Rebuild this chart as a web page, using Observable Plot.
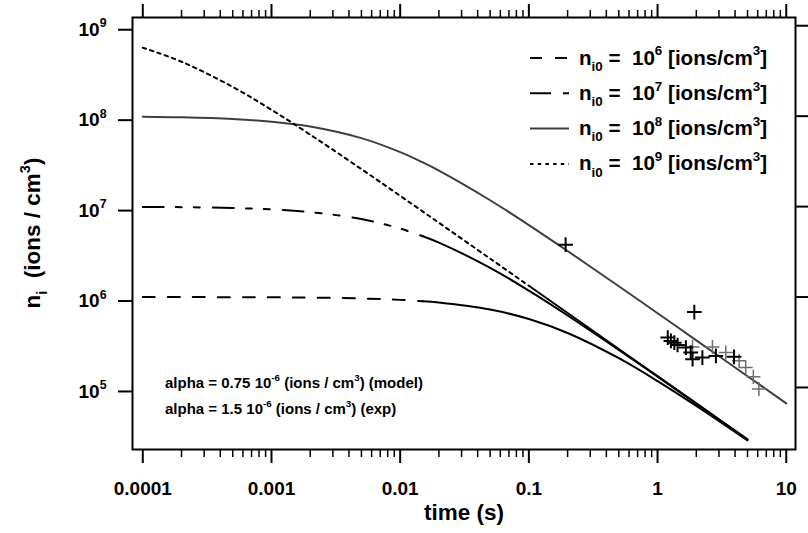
<!DOCTYPE html>
<html><head><meta charset="utf-8">
<script src="https://cdn.jsdelivr.net/npm/d3@7"></script>
<script src="https://cdn.jsdelivr.net/npm/@observablehq/plot@0.6"></script>
<style>body{margin:0;background:#fff;} #chart svg{display:block;background:#fff;} text{white-space:pre;}</style>
</head><body><div id="chart"></div>
<script>
// ---- data ----
const xTicks = [0.0001, 0.001, 0.01, 0.1, 1, 10];
const xTickLabels = ["0.0001", "0.001", "0.01", "0.1", "1", "10"];
const yTicks = [1e5, 1e6, 1e7, 1e8, 1e9];
const yTickLabels = ["10^5", "10^6", "10^7", "10^8", "10^9"];

const tModel = [1e-4, 2e-4, 5e-4, 1e-3, 2e-3, 5e-3, 0.01, 0.015, 0.02, 0.05, 0.1, 0.2, 0.5, 1, 2, 5];
const tModel8 = [1e-4, 2e-4, 5e-4, 1e-3, 2e-3, 5e-3, 0.01, 0.015, 0.02, 0.05, 0.1, 0.2, 0.5, 1, 2, 5, 10];
const n06 = [9.99e5, 9.985e5, 9.963e5, 9.926e5, 9.852e5, 9.639e5, 9.302e5, 8.989e5, 8.696e5, 7.273e5, 5.714e5, 4.0e5, 2.105e5, 1.176e5, 6.25e4, 2.597e4];
const n07 = [9.926e6, 9.852e6, 9.639e6, 9.302e6, 8.696e6, 7.273e6, 5.714e6, 4.706e6, 4.0e6, 2.105e6, 1.176e6, 6.25e5, 2.597e5, 1.316e5, 6.623e4, 2.658e4];
const n08 = [9.852e7, 9.709e7, 9.302e7, 8.696e7, 7.692e7, 5.714e7, 4.0e7, 3.077e7, 2.5e7, 1.176e7, 6.25e6, 3.226e6, 1.316e6, 6.623e5, 3.322e5, 1.332e5, 6.662e4];
const n09 = [5.714e8, 4.0e8, 2.105e8, 1.176e8, 6.25e7, 2.597e7, 1.316e7, 8.811e6, 6.623e6, 2.66e6, 1.331e6, 6.664e5, 2.666e5, 1.333e5, 6.666e4, 2.667e4];
const seriesNames = ["1e6", "1e7", "1e8", "1e9"];
const seriesExp = ["6", "7", "8", "9"];
const dashCut = [0.015, 0.015, 0, 0.1];

const expBlackT = [0.193, 1.93, 1.2, 1.27, 1.35, 1.43, 1.66, 1.81, 1.87, 2.23, 2.84, 3.93];
const expBlackN = [3.79e6, 6.82e5, 3.56e5, 3.27e5, 3.13e5, 2.95e5, 2.76e5, 2.43e5, 2.05e5, 2.14e5, 2.23e5, 2.18e5];
const expGrayT = [1.87, 2.67, 3.39, 4.3, 4.84, 5.55, 6.13];
const expGrayN = [2.8e5, 2.8e5, 2.43e5, 1.97e5, 1.66e5, 1.31e5, 9.6e4];

// ---- styling ----
const FONT = "'Liberation Sans', Arial, Helvetica, sans-serif";
const TICK = 19, TITLE = 22.5, YTITLE = 22.5, LEG = 20.6, ANN = 15;
const dashes = ["12,13", "21,12,6,12,6,13", null, "3.5,4.2"];
const colors = ["#000", "#000", "#3f3f3f", "#000"];

const modelT = [tModel, tModel, tModel8, tModel];
const modelN = [n06, n07, n08, n09];
const rows = seriesNames.flatMap((s, k) => modelT[k].map((t, i) => ({s, k, t, n: modelN[k][i]})));
const black = expBlackT.map((t, i) => ({t, n: expBlackN[i]}));
const gray = expGrayT.map((t, i) => ({t, n: expGrayN[i]}));

const minorX = [];
for (let e = -4; e < 1; e++) for (let m = 2; m <= 9; m++) minorX.push(m * 10 ** e);

const lineMarks = [];
seriesNames.forEach((s, k) => {
  const cut = dashCut[k];
  if (cut > 0) {
    lineMarks.push(Plot.line(rows.filter(r => r.k === k && r.t <= cut), {x: "t", y: "n", stroke: colors[k], strokeWidth: 2, strokeDasharray: dashes[k], curve: "catmull-rom"}));
  }
  lineMarks.push(Plot.line(rows.filter(r => r.k === k && r.t >= cut), {x: "t", y: "n", stroke: colors[k], strokeWidth: 2, curve: "catmull-rom"}));
});

const svg = Plot.plot({
  width: 808, height: 533,
  marginLeft: 132, marginRight: 13, marginTop: 17, marginBottom: 84,
  x: {type: "log", domain: [8.318e-5, 11.80]},
  y: {type: "log", domain: [2.061e4, 1.233e9]},
  style: {fontFamily: FONT, fontSize: TICK + "px", fontWeight: "bold", color: "#000", background: "#fff"},
  marks: [
    ...lineMarks,
    Plot.dot(gray, {x: "t", y: "n", symbol: "plus", r: 4.6, stroke: "#6e6e6e", strokeWidth: 1.5}),
    Plot.dot(black, {x: "t", y: "n", symbol: "plus", r: 4.8, stroke: "#000", strokeWidth: 2}),
    Plot.frame({stroke: "#000", strokeWidth: 2}),
    Plot.axisX({anchor: "bottom", ticks: xTicks, tickSize: 14, tickPadding: 18, strokeWidth: 2, label: null,
      tickFormat: d => xTickLabels[xTicks.indexOf(d)]}),
    Plot.axisX({anchor: "bottom", ticks: minorX, tickSize: 8, strokeWidth: 1.5, label: null, tickFormat: () => ""}),
    Plot.axisX({anchor: "top", ticks: xTicks, tickSize: 14, strokeWidth: 2, label: null, tickFormat: () => ""}),
    Plot.axisX({anchor: "top", ticks: minorX, tickSize: 8, strokeWidth: 1.5, label: null, tickFormat: () => ""}),
    Plot.axisY({anchor: "left", ticks: yTicks, tickSize: 14, tickPadding: 12, strokeWidth: 2, label: null, dy: 4,
      tickFormat: d => yTickLabels[yTicks.indexOf(d)]}),
    Plot.axisY({anchor: "right", ticks: yTicks, tickSize: 13, strokeWidth: 2, label: null, tickFormat: () => ""}),
    Plot.text(["time (s)"], {frameAnchor: "bottom", lineAnchor: "middle", dy: 63, fontSize: TITLE, fontWeight: "bold"})
  ]
});
document.getElementById("chart").append(svg);

// ---- rich text helper (sub/superscripts) ----
function rich(sel, parts, size) {
  let cur = 0;
  for (const p of parts) {
    const target = p.sup ? -0.45 * size : p.sub ? 0.3 * size : 0;
    const ts = sel.append("tspan").text(p.t);
    if (target !== cur) ts.attr("dy", target - cur);
    if (p.sup || p.sub) ts.attr("font-size", 0.65 * size);
    cur = target;
  }
}

const root = d3.select(svg);
root.selectAll('g[aria-label="y-axis tick label"] text').each(function () {
  const s = d3.select(this);
  const txt = s.text();
  if (!txt.includes("^")) return;
  const [b, e] = txt.split("^");
  s.text("");
  rich(s, [{t: b}, {t: e, sup: true}], TICK);
});

// y-axis title
const yt = root.append("text")
  .attr("transform", "translate(32,233) rotate(-90)")
  .attr("text-anchor", "middle").attr("dy", "0.35em")
  .attr("font-family", FONT).attr("font-weight", "bold").attr("font-size", YTITLE);
rich(yt, [{t: "n"}, {t: "i", sub: true}, {t: "  (ions / cm"}, {t: "3", sup: true}, {t: ")"}], YTITLE);

// legend
const leg = root.append("g").attr("font-family", FONT).attr("font-weight", "bold").attr("font-size", LEG).attr("text-anchor", "start");
seriesNames.forEach((s, k) => {
  const y = 58 + 35.3 * k;
  leg.append("line").attr("x1", 530).attr("x2", 569).attr("y1", y).attr("y2", y)
    .attr("stroke", colors[k]).attr("stroke-width", 2).attr("stroke-dasharray", dashes[k]);
  const t = leg.append("text").attr("x", 579).attr("y", y + 6.5).attr("text-anchor", "start");
  rich(t, [{t: "n"}, {t: "i0", sub: true}, {t: " =  10"}, {t: seriesExp[k], sup: true}, {t: " [ions/cm"}, {t: "3", sup: true}, {t: "]"}], LEG);
});

// annotations
const ann = root.append("g").attr("font-family", FONT).attr("font-weight", "bold").attr("font-size", ANN).attr("text-anchor", "start");
const a1 = ann.append("text").attr("x", 165).attr("y", 388).attr("text-anchor", "start");
rich(a1, [{t: "alpha = 0.75 10"}, {t: "-6", sup: true}, {t: " (ions / cm"}, {t: "3", sup: true}, {t: ") (model)"}], ANN);
const a2 = ann.append("text").attr("x", 165).attr("y", 414).attr("text-anchor", "start");
rich(a2, [{t: "alpha = 1.5 10"}, {t: "-6", sup: true}, {t: " (ions / cm"}, {t: "3", sup: true}, {t: ") (exp)"}], ANN);
</script></body></html>
